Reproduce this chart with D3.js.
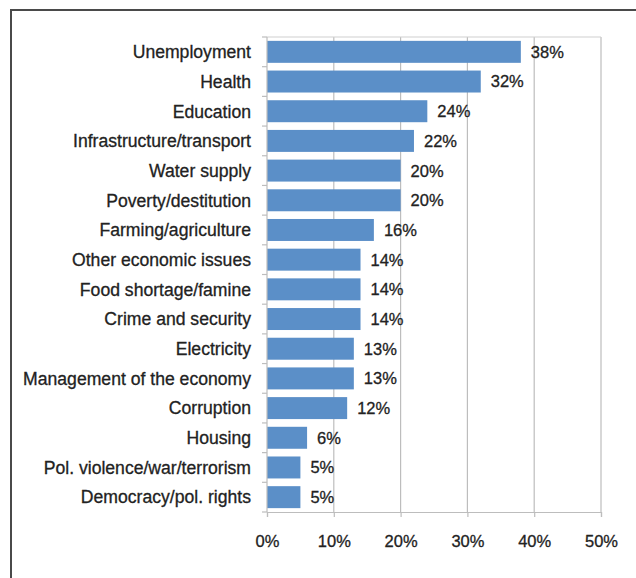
<!DOCTYPE html>
<html>
<head>
<meta charset="utf-8">
<script src="https://cdn.jsdelivr.net/npm/d3@7"></script>
<style>
  html, body { margin: 0; padding: 0; background: #fff; }
  svg { display: block; }
  text { font-family: "Liberation Sans", Arial, Helvetica, sans-serif; fill: #222; stroke: #222; stroke-width: 0.3px; }
</style>
</head>
<body>
<svg id="chart" width="636" height="578"></svg>
<script>
// Most important problems (share of respondents)
const categories = [
  "Unemployment", "Health", "Education", "Infrastructure/transport",
  "Water supply", "Poverty/destitution", "Farming/agriculture",
  "Other economic issues", "Food shortage/famine", "Crime and security",
  "Electricity", "Management of the economy", "Corruption", "Housing",
  "Pol. violence/war/terrorism", "Democracy/pol. rights"
];
const values = [38, 32, 24, 22, 20, 20, 16, 14, 14, 14, 13, 13, 12, 6, 5, 5];
const tickValues = [0, 10, 20, 30, 40, 50];

const svg = d3.select("#chart");
const plot = { left: 267, right: 601, top: 37, bottom: 512 };

// Outer frame (top and left edges visible)
svg.append("path")
  .attr("d", "M11,578 L11,10 L636,10")
  .attr("fill", "none")
  .attr("stroke", "#4a4a4a")
  .attr("stroke-width", 2);

const x = d3.scaleLinear().domain([0, 50]).range([plot.left, plot.right]);
const y = d3.scaleBand().domain(categories).range([plot.top, plot.bottom]).paddingInner(0.26).paddingOuter(0.13);

// Vertical gridlines
svg.append("g")
  .selectAll("line")
  .data(tickValues.slice(1))
  .join("line")
  .attr("x1", d => x(d)).attr("x2", d => x(d))
  .attr("y1", plot.top).attr("y2", plot.bottom)
  .attr("stroke", "#bdbdbd").attr("stroke-width", 1.2);

// Plot area top border
svg.append("line")
  .attr("x1", plot.left).attr("x2", plot.right)
  .attr("y1", plot.top).attr("y2", plot.top)
  .attr("stroke", "#cfcfcf").attr("stroke-width", 1.2);

// Bars
svg.append("g")
  .selectAll("rect")
  .data(values)
  .join("rect")
  .attr("x", x(0))
  .attr("y", (d, i) => y(categories[i]))
  .attr("width", d => x(d) - x(0))
  .attr("height", y.bandwidth())
  .attr("fill", "#5b8fc8");

// Value labels
svg.append("g")
  .selectAll("text")
  .data(values)
  .join("text")
  .attr("x", d => x(d) + 10)
  .attr("y", (d, i) => y(categories[i]) + y.bandwidth() / 2)
  .attr("dy", "0.36em")
  .attr("font-size", 16.5)
  .text(d => d + "%");

// Category axis with boundary ticks
const yBand = d3.scaleLinear().domain([0, categories.length]).range([plot.top, plot.bottom]);
const yAxis = svg.append("g");
yAxis.append("line")
  .attr("x1", plot.left).attr("x2", plot.left)
  .attr("y1", plot.top).attr("y2", plot.bottom)
  .attr("stroke", "#bdbdbd").attr("stroke-width", 1.2);
yAxis.selectAll("line.tick")
  .data(d3.range(categories.length + 1))
  .join("line")
  .attr("class", "tick")
  .attr("x1", plot.left - 5).attr("x2", plot.left)
  .attr("y1", d => yBand(d)).attr("y2", d => yBand(d))
  .attr("stroke", "#bdbdbd").attr("stroke-width", 1.2);
yAxis.selectAll("text")
  .data(categories)
  .join("text")
  .attr("x", plot.left - 16)
  .attr("y", d => y(d) + y.bandwidth() / 2)
  .attr("dy", "0.36em")
  .attr("text-anchor", "end")
  .attr("font-size", 17.6)
  .text(d => d);

// Value axis
const xAxis = svg.append("g").attr("transform", `translate(0,${plot.bottom})`)
  .call(d3.axisBottom(x).tickValues(tickValues).tickSize(5).tickPadding(18).tickFormat(d => d + "%"));
xAxis.select(".domain").attr("stroke", "#bdbdbd").attr("stroke-width", 1.2);
xAxis.selectAll(".tick line").attr("stroke", "#bdbdbd").attr("stroke-width", 1.2);
xAxis.selectAll(".tick text")
  .attr("font-size", 16.5)
  .attr("font-family", "'Liberation Sans', Arial, Helvetica, sans-serif")
  .attr("fill", "#222")
  .attr("stroke", "#222")
  .attr("stroke-width", 0.3);
</script>
</body>
</html>
